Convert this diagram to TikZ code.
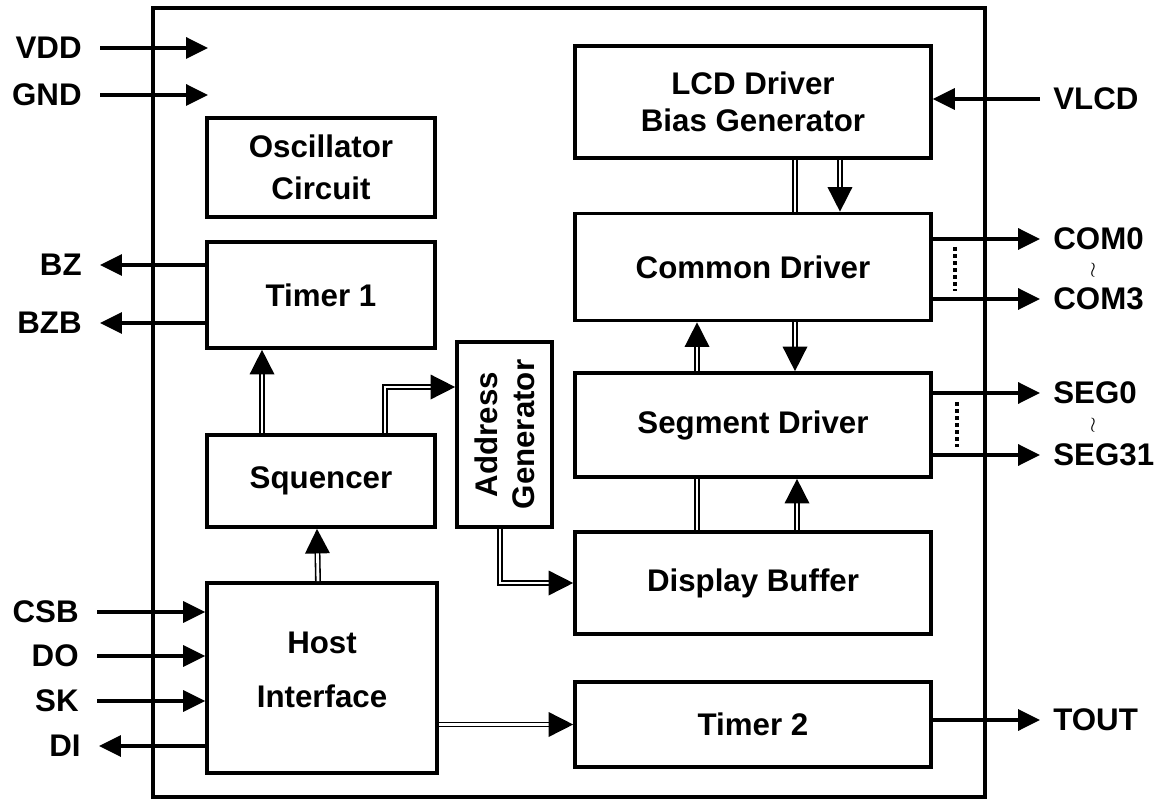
\documentclass[tikz,border=0pt]{standalone}
\usepackage{fontspec}
\usepackage{amssymb}
\usepackage{tikz}
\setmainfont{Liberation Sans}
\usetikzlibrary{arrows.meta}
\tikzset{blk/.style = {draw, line width = 2.1pt, inner sep = 0, align = center}}
\tikzset{sig/.style = {line width = 1.8pt, -{Triangle[length = 12.5pt, width = 12pt]}}}
\tikzset{bus/.style = {double, double distance = 1.6pt, line width = 0.9pt}}
\tikzset{busarr/.style = {bus, -{Triangle[length = 14pt, width = 14pt]}}}
\tikzset{pinl/.style = {anchor = east, inner xsep = 0.36cm, inner ysep = 0}}
\tikzset{pinr/.style = {anchor = west, inner xsep = 0.26cm, inner ysep = 0}}
\tikzset{tld/.style = {font = \fontsize{13}{13}\selectfont, inner sep = 0}}
\tikzset{dots/.style = {line width = 2pt, dash pattern = on 2pt off 2pt}}

\begin{document}
\begin{tikzpicture}[x = 0.02cm, y = -0.02cm, font = \bfseries\fontsize{17.8}{21}\selectfont]
      \useasboundingbox (0, 0) rectangle (1163, 800);
      \draw [line width = 1.8pt] (153, 8) rectangle (985, 797);

      % blocks
      \node [blk, minimum width = 7.12cm, minimum height = 2.24cm] (lcd) at (753, 102) {LCD Driver\\Bias Generator};
      \node [blk, minimum width = 7.12cm, minimum height = 2.14cm] (com) at (753, 267) {Common Driver};
      \node [blk, minimum width = 7.12cm, minimum height = 2.08cm] (seg) at (753, 425) {Segment Driver};
      \node [blk, minimum width = 7.12cm, minimum height = 2.04cm] (buf) at (753, 583) {Display Buffer};
      \node [blk, minimum width = 7.12cm, minimum height = 1.70cm] (tim2) at (753, 724.5) {Timer 2};
      \node [blk, minimum width = 4.56cm, minimum height = 1.98cm] (osc) at (321, 167.5) {Oscillator\\[2.8pt]Circuit};
      \node [blk, minimum width = 4.56cm, minimum height = 2.12cm] (tim1) at (321, 295) {Timer 1};
      \node [blk, minimum width = 4.56cm, minimum height = 1.84cm] (sq) at (321, 481) {Squencer};
      \node [blk, minimum width = 4.60cm, minimum height = 3.80cm] (host) at (322, 678) {Host\\[9.6pt]Interface\\[-12pt]};
      \node [blk, minimum width = 1.90cm, minimum height = 3.70cm] (addr) at (504.5, 434.5) {};
      \node [rotate = 90, align = center] (addrtx) at (addr) {Address\\Generator};

      % supply and host pins
      \node [pinl] (vdd) at (100, 48) {VDD};
      \node [pinl] (gnd) at (100, 95) {GND};
      \coordinate (vddin) at (208, 48);
      \coordinate (gndin) at (208, 95);
      \draw [sig] (vdd) -- (vddin);
      \draw [sig] (gnd) -- (gndin);

      \node [pinl] (bz) at (100, 265) {BZ};
      \node [pinl] (bzb) at (100, 323) {BZB};
      \draw [sig] (tim1.west |- bz) -- (bz);
      \draw [sig] (tim1.west |- bzb) -- (bzb);

      \node [pinl] (csb) at (97, 612) {CSB};
      \node [pinl] (do) at (97, 656) {DO};
      \node [pinl] (sk) at (97, 701) {SK};
      \node [pinl] (di) at (99, 746) {DI};
      \draw [sig] (csb) -- (host.west |- csb);
      \draw [sig] (do) -- (host.west |- do);
      \draw [sig] (sk) -- (host.west |- sk);
      \draw [sig] (host.west |- di) -- (di);

      % driver outputs
      \node [pinr] (vlcd) at (1040, 99) {VLCD};
      \draw [sig] (vlcd) -- (lcd.east |- vlcd);

      \node [pinr] (com0) at (1040, 239) {COM0};
      \node [pinr] (com3) at (1040, 299) {COM3};
      \node [tld] (comto) at (1093, 270) {$\wr$};
      \draw [sig] (com.east |- com0) -- (com0);
      \draw [sig] (com.east |- com3) -- (com3);
      \draw [dots] (955, 247) -- (955, 291);

      \node [pinr] (seg0) at (1040, 393) {SEG0};
      \node [pinr] (seg31) at (1040, 455) {SEG31};
      \node [tld] (segto) at (1093, 425) {$\wr$};
      \draw [sig] (seg.east |- seg0) -- (seg0);
      \draw [sig] (seg.east |- seg31) -- (seg31);
      \draw [dots] (957, 402) -- (957, 447);

      \node [pinr] (tout) at (1040, 720) {TOUT};
      \draw [sig] (tim2.east |- tout) -- (tout);

      % internal buses
      \draw [bus] ([xshift = 0.84cm] lcd.south) -- ([xshift = 0.84cm] com.north);
      \draw [busarr] ([xshift = 1.74cm] lcd.south) -- ([xshift = 1.74cm] com.north);
      \draw [busarr] ([xshift = -1.12cm] seg.north) -- ([xshift = -1.12cm] com.south);
      \draw [busarr] ([xshift = 0.84cm] com.south) -- ([xshift = 0.84cm] seg.north);
      \draw [bus] ([xshift = -1.12cm] buf.north) -- ([xshift = -1.12cm] seg.south);
      \draw [busarr] ([xshift = 0.88cm] buf.north) -- ([xshift = 0.88cm] seg.south);
      \draw [busarr] ([xshift = -1.18cm] sq.north) -- ([xshift = -1.18cm] tim1.south);
      \draw [busarr] ([xshift = 1.28cm] sq.north) |- ([yshift = 0.95cm] addr.west);
      \draw [busarr] ([xshift = -0.08cm] host.north) -- ([xshift = -0.08cm] sq.south);
      \draw [busarr] ([xshift = -0.09cm] addr.south) |- (buf.west);
      \draw [busarr] (host.east |- tim2.west) -- (tim2.west);
\end{tikzpicture}
\end{document}
